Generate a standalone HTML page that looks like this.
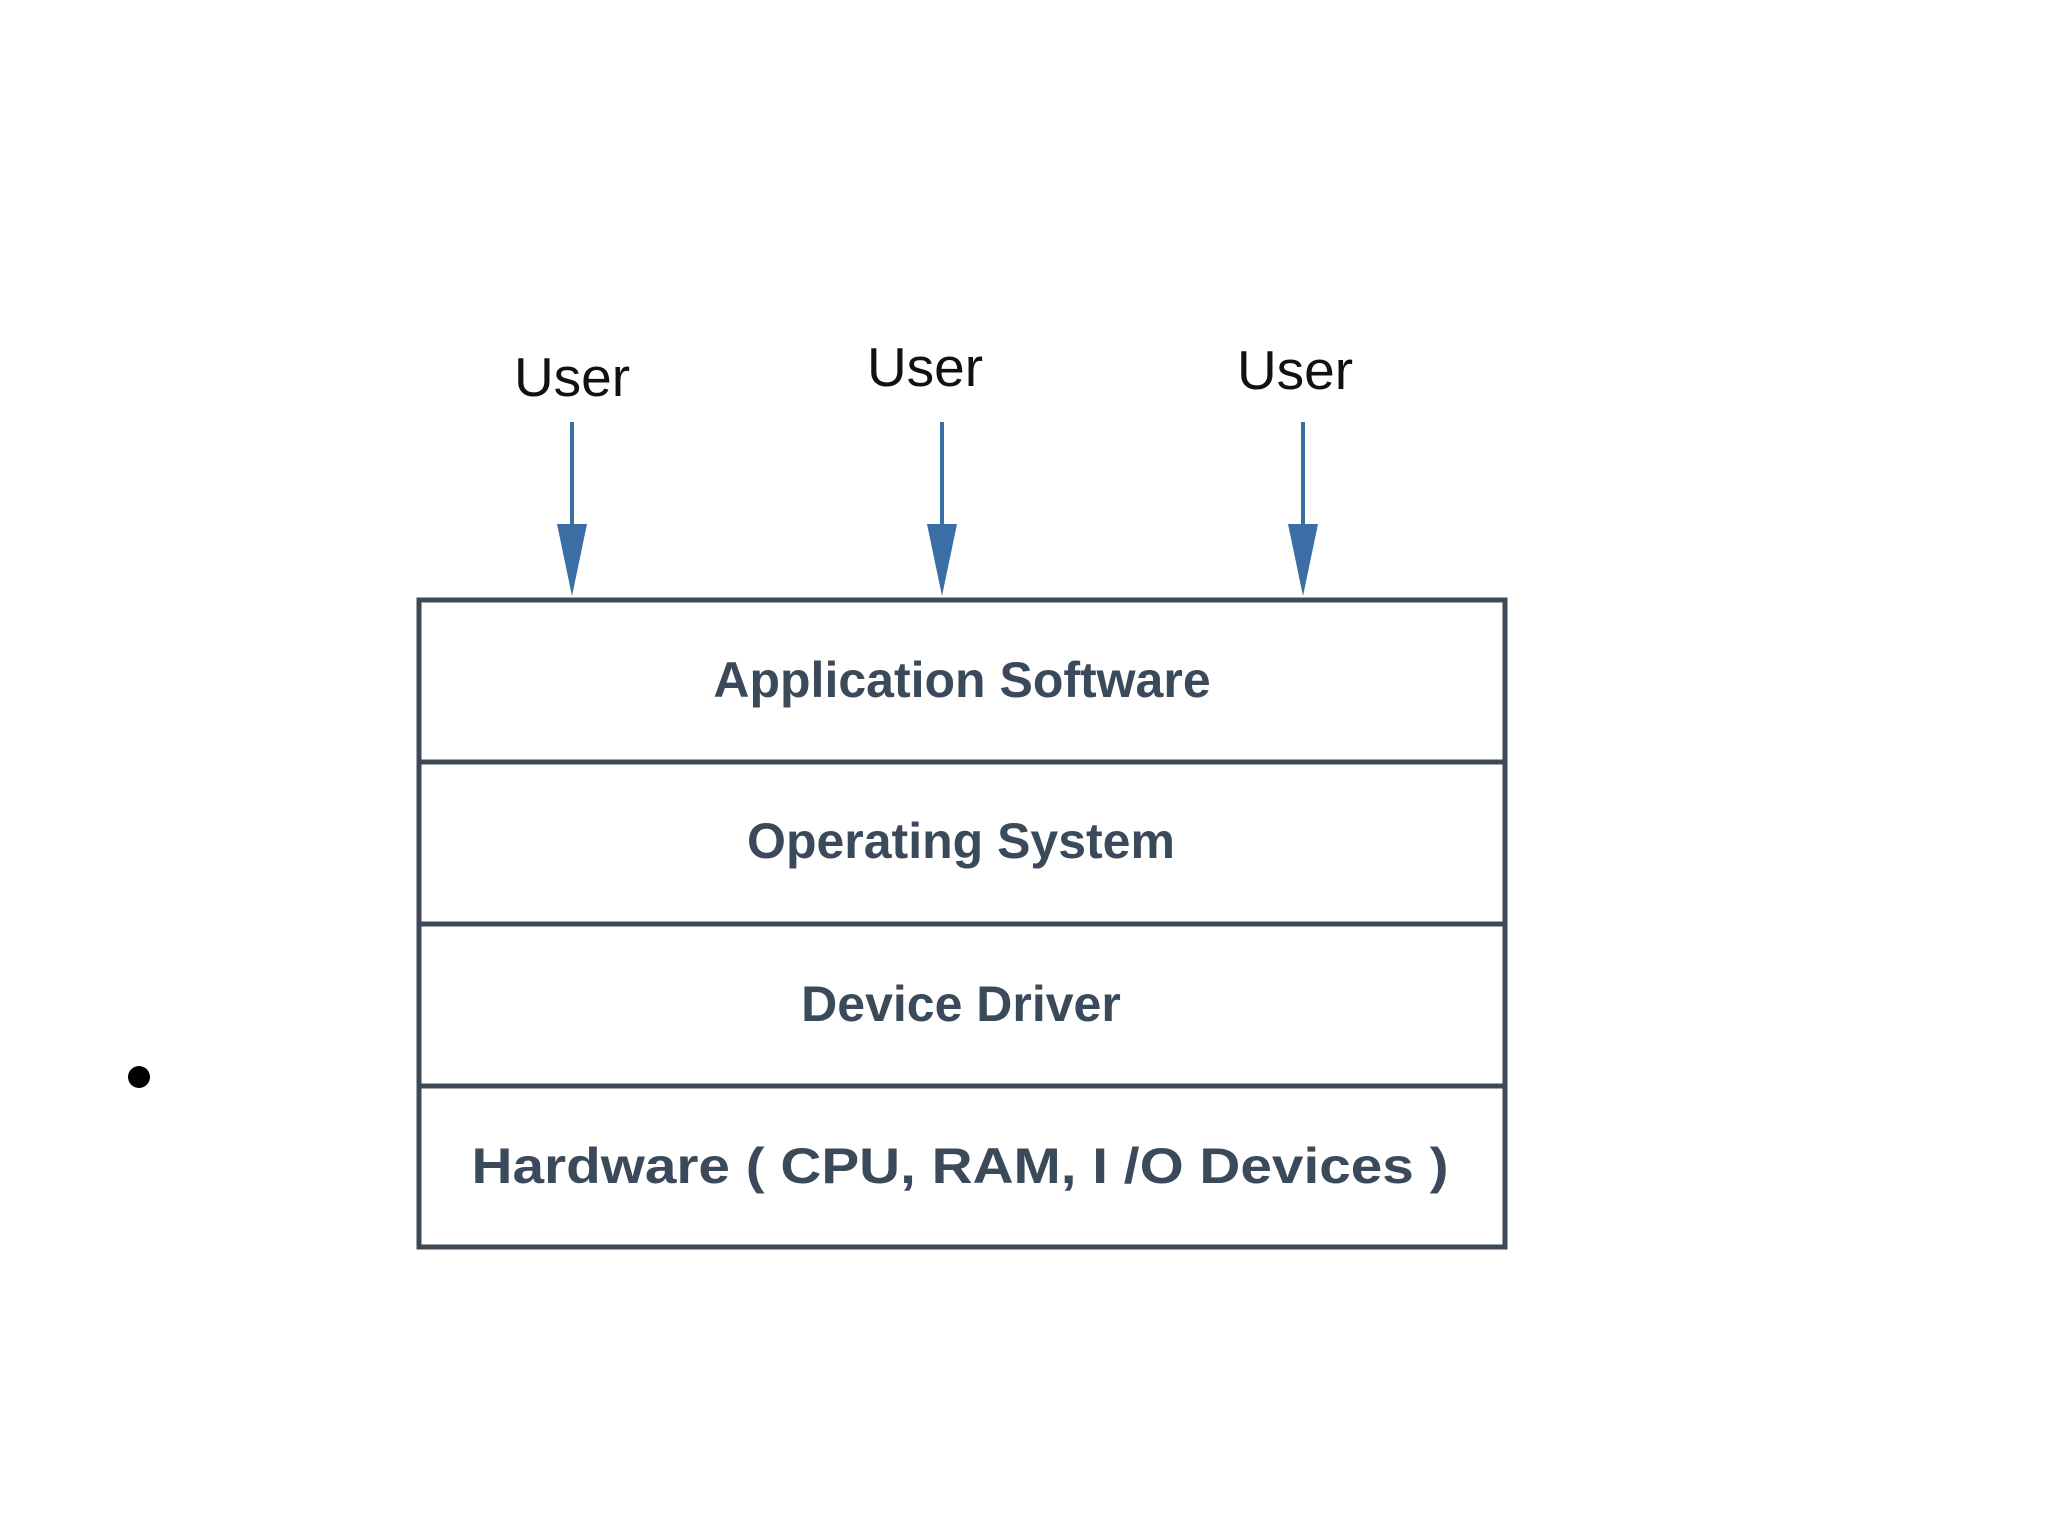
<!DOCTYPE html>
<html><head><meta charset="utf-8"><style>html,body{margin:0;padding:0;background:#fff;}svg{display:block}</style></head>
<body>
<svg width="2048" height="1536" viewBox="0 0 2048 1536" xmlns="http://www.w3.org/2000/svg">
<rect width="2048" height="1536" fill="#fff"/>
<g font-family="Liberation Sans, Arial, sans-serif" font-size="55" fill="#111" text-anchor="middle">
<text x="572" y="396">User</text>
<text x="925" y="386">User</text>
<text x="1295" y="389">User</text>
</g>
<g stroke="#3a6ea5" stroke-width="4">
<line x1="572" y1="422" x2="572" y2="530"/>
<line x1="942" y1="422" x2="942" y2="530"/>
<line x1="1303" y1="422" x2="1303" y2="530"/>
</g>
<g fill="#3a6ea5">
<polygon points="557,524 587,524 572,596"/>
<polygon points="927,524 957,524 942,596"/>
<polygon points="1288,524 1318,524 1303,596"/>
</g>
<g stroke="#3d4a55" stroke-width="5" fill="none">
<rect x="419" y="600" width="1086" height="647"/>
<line x1="419" y1="762" x2="1505" y2="762"/>
<line x1="419" y1="924" x2="1505" y2="924"/>
<line x1="419" y1="1086" x2="1505" y2="1086"/>
</g>
<g font-family="Liberation Sans, Arial, sans-serif" font-weight="bold" font-size="50" fill="#3b4a5a" text-anchor="middle">
<text x="962" y="697">Application Software</text>
<text x="961" y="858">Operating System</text>
<text x="961" y="1021">Device Driver</text>
<text x="960" y="1183" textLength="977" lengthAdjust="spacingAndGlyphs">Hardware ( CPU, RAM, I /O Devices )</text>
</g>
<circle cx="139" cy="1077" r="11" fill="#000"/>
</svg>
</body></html>
